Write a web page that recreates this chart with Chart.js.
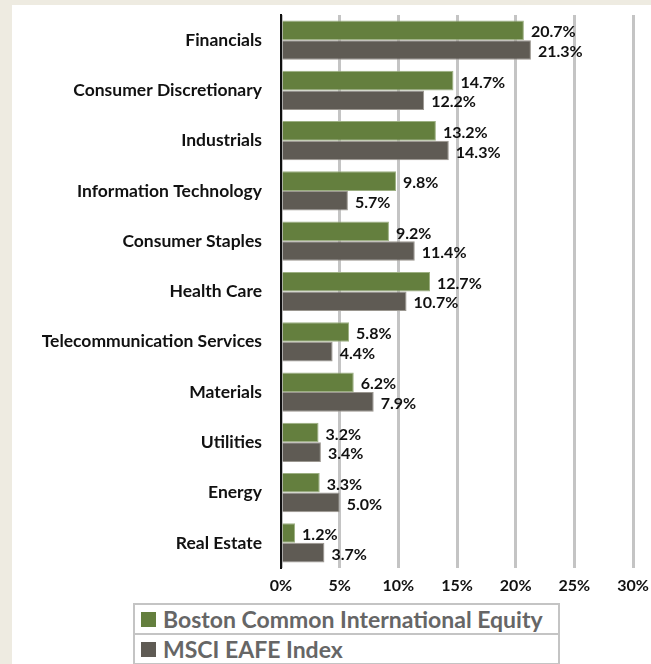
<!DOCTYPE html>
<html>
<head>
<meta charset="utf-8">
<script src="https://cdn.jsdelivr.net/npm/chart.js@4"></script>
<style>
  body { margin: 0; background: #eeebe1; width: 651px; height: 664px; overflow: hidden; font-family: Lato, "Open Sans", sans-serif; }
  #panel { position: absolute; left: 12px; top: 5px; width: 639px; height: 659px; background: #fff; }
  #wrap { position: absolute; left: 0; top: 0; width: 639px; height: 598px; }
  #legend { position: absolute; left: 121px; top: 598px; width: 427px; }
  .row { border: 2px solid #c4c4c4; height: 28px; display: flex; align-items: center; padding-left: 6px;
         font-weight: bold; font-size: 23px; color: #666; white-space: nowrap; }
  .row + .row { border-top: none; }
  .sw { width: 15px; height: 15px; margin-right: 7px; }
</style>
</head>
<body>
<div id="panel">
  <div id="wrap"><canvas id="pt_chart"></canvas></div>
  <div id="legend"></div>
</div>
<script>
var sectors = ["Financials", "Consumer Discretionary", "Industrials", "Information Technology",
  "Consumer Staples", "Health Care", "Telecommunication Services", "Materials",
  "Utilities", "Energy", "Real Estate"];
var seriesNames = ["Boston Common International Equity", "MSCI EAFE Index"];
var bostonCommon = [20.7, 14.7, 13.2, 9.8, 9.2, 12.7, 5.8, 6.2, 3.2, 3.3, 1.2];
var msciEafe = [21.3, 12.2, 14.3, 5.7, 11.4, 10.7, 4.4, 7.9, 3.4, 5.0, 3.7];
var xTicks = [0, 5, 10, 15, 20, 25, 30];

var colors = ['#647f3e', '#5f5b54'];
var borders = ['#9db083', '#9a968f'];

// value labels at the end of each bar
var valueLabels = {
  id: 'valueLabels',
  afterDatasetsDraw: function (chart) {
    var ctx = chart.ctx;
    ctx.save();
    ctx.font = 'bold 16px Lato, sans-serif';
    ctx.fillStyle = '#111';
    ctx.textBaseline = 'middle';
    chart.data.datasets.forEach(function (ds, i) {
      chart.getDatasetMeta(i).data.forEach(function (bar, j) {
        ctx.fillText(ds.data[j].toFixed(1) + '%', bar.x + 7, bar.y + 2);
      });
    });
    ctx.restore();
  }
};

new Chart(document.getElementById("pt_chart").getContext("2d"), {
  type: 'bar',
  data: {
    labels: sectors,
    datasets: [{
      label: seriesNames[0],
      data: bostonCommon,
      backgroundColor: colors[0],
      borderColor: borders[0],
      borderWidth: 1,
      categoryPercentage: 0.78,
      barPercentage: 1
    }, {
      label: seriesNames[1],
      data: msciEafe,
      backgroundColor: colors[1],
      borderColor: borders[1],
      borderWidth: 1,
      categoryPercentage: 0.78,
      barPercentage: 1
    }]
  },
  options: {
    indexAxis: 'y',
    responsive: true,
    maintainAspectRatio: false,
    animation: false,
    layout: { padding: { left: 0, right: 18, top: 10, bottom: 0 } },
    plugins: { legend: { display: false }, tooltip: { enabled: false } },
    scales: {
      x: {
        min: 0, max: 30,
        afterBuildTicks: function (scale) {
          scale.ticks = xTicks.map(function (v) { return { value: v }; });
        },
        afterFit: function (scale) {
          scale.height = 35;
          scale.paddingLeft = 0;
          scale.paddingRight = 0;
        },
        grid: { color: '#c4c4c4', lineWidth: 3, drawTicks: false },
        border: { display: false },
        ticks: {
          padding: 8,
          color: '#111',
          font: { family: 'Lato', weight: 'bold', size: 16 },
          callback: function (v) { return v + '%'; }
        }
      },
      y: {
        afterFit: function (scale) {
          scale.width = 269;
          scale.paddingTop = 0;
          scale.paddingBottom = 0;
        },
        grid: { display: false, tickLength: 19 },
        border: { display: true, color: '#111', width: 2 },
        ticks: {
          padding: 0,
          color: '#111',
          font: { family: 'Lato', weight: 'bold', size: 17.5 }
        }
      }
    }
  },
  plugins: [valueLabels]
});

var legend = document.getElementById('legend');
seriesNames.forEach(function (name, i) {
  var row = document.createElement('div');
  row.className = 'row';
  row.innerHTML = '<span class="sw" style="background:' + colors[i] + '"></span>' + name;
  legend.appendChild(row);
});
</script>
</body>
</html>
